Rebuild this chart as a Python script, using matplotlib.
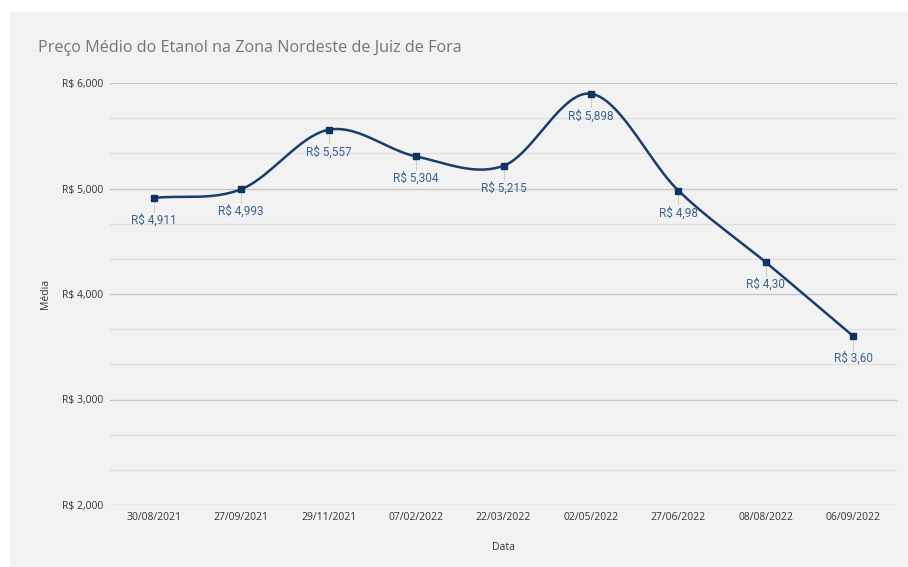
import numpy as np
import matplotlib.pyplot as plt
from matplotlib.patches import Rectangle

datas = ['30/08/2021', '27/09/2021', '29/11/2021', '07/02/2022', '22/03/2022',
         '02/05/2022', '27/06/2022', '08/08/2022', '06/09/2022']
media = [4.911, 4.993, 5.557, 5.304, 5.215, 5.898, 4.98, 4.30, 3.60]
rotulos = ['R$ 4,911', 'R$ 4,993', 'R$ 5,557', 'R$ 5,304', 'R$ 5,215',
           'R$ 5,898', 'R$ 4,98', 'R$ 4,30', 'R$ 3,60']
yticks = [2, 3, 4, 5, 6]
ytick_labels = ['R$ 2,000', 'R$ 3,000', 'R$ 4,000', 'R$ 5,000', 'R$ 6,000']


def catmull_rom(x, y, n=40):
    # curva suavizada passando pelos pontos (estilo planilha)
    x = np.asarray(x, float)
    y = np.asarray(y, float)
    px = np.concatenate([[2 * x[0] - x[1]], x, [2 * x[-1] - x[-2]]])
    py = np.concatenate([[2 * y[0] - y[1]], y, [2 * y[-1] - y[-2]]])
    xs, ys = [], []
    t = np.linspace(0, 1, n)
    for i in range(1, len(px) - 2):
        for p, out in ((px, xs), (py, ys)):
            p0, p1, p2, p3 = p[i - 1], p[i], p[i + 1], p[i + 2]
            out.append(0.5 * (2 * p1 + (-p0 + p2) * t
                              + (2 * p0 - 5 * p1 + 4 * p2 - p3) * t ** 2
                              + (-p0 + 3 * p1 - 3 * p2 + p3) * t ** 3))
    return np.concatenate(xs), np.concatenate(ys)


fig = plt.figure(figsize=(9.08, 5.67), dpi=100)
fig.patch.set_facecolor('white')
fig.patches.append(Rectangle((10 / 908, 0), 898 / 908, 1 - 12 / 567,
                             transform=fig.transFigure, facecolor='#f2f2f2',
                             edgecolor='none', zorder=-10))

ax = fig.add_axes([110 / 908, 1 - 505 / 567, 787 / 908, 422 / 567])
ax.set_facecolor('#f2f2f2')
ax.patch.set_alpha(0)

x = np.arange(len(datas))
sx, sy = catmull_rom(x, media)
ax.plot(sx, sy, color='#1c3c6b', lw=1.8, zorder=3)
ax.plot(x, media, 's', color='#0f3464', ms=4.5, zorder=4)

for xi, yi, lab in zip(x, media, rotulos):
    ax.plot([xi, xi], [yi, yi - 0.13], color='#d0d0d0', lw=0.8, zorder=2)
    ax.text(xi, yi - 0.21, lab, ha='center', va='center', fontsize=8.5,
            color='#3f618c', family='Roboto', zorder=5)

ax.set_xlim(-0.5, len(datas) - 0.5)
ax.set_ylim(2, 6)
ax.set_yticks(yticks)
ax.set_yticklabels(ytick_labels)
ax.set_yticks(np.arange(2, 6, 1 / 3), minor=True)
ax.set_xticks(x)
ax.set_xticklabels(datas)
ax.grid(axis='y', which='major', color='#c8c8c8', lw=1.0)
ax.grid(axis='y', which='minor', color='#e0e0e0', lw=1.0)
ax.set_axisbelow(True)
for s in ax.spines.values():
    s.set_visible(False)
ax.tick_params(axis='both', which='both', length=0, labelsize=7.5,
               labelcolor='#333333')
ax.tick_params(axis='y', pad=5)
ax.tick_params(axis='x', pad=5)
for lab in ax.get_xticklabels() + ax.get_yticklabels():
    lab.set_family('Open Sans')

ax.set_xlabel('Data', fontsize=7.5, color='#333333', family='Open Sans', labelpad=14)
ax.set_ylabel('Média', fontsize=7.5, color='#333333', family='Open Sans', labelpad=8)

fig.text(38 / 908, 1 - 48 / 567, 'Preço Médio do Etanol na Zona Nordeste de Juiz de Fora',
         fontsize=11.6, color='#757575', family='Open Sans', va='center', ha='left')

fig.savefig('out.png', dpi=100)
